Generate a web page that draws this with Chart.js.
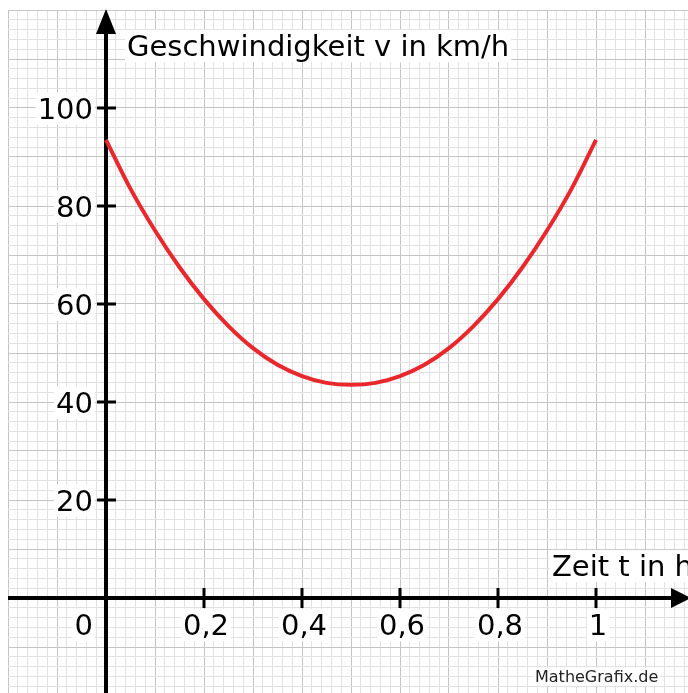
<!DOCTYPE html>
<html>
<head>
<meta charset="utf-8">
<script src="https://cdn.jsdelivr.net/npm/chart.js@4"></script>
<style>
  body { margin: 0; background: #fff; }
  #wrap { width: 688px; height: 693px; }
</style>
</head>
<body>
<div id="wrap"><canvas id="graf" width="688" height="693"></canvas></div>
<script>
// Zeit t in h / Geschwindigkeit v in km/h
const zeit = [0, 0.05, 0.1, 0.15, 0.2, 0.25, 0.3, 0.35, 0.4, 0.45, 0.5,
              0.55, 0.6, 0.65, 0.7, 0.75, 0.8, 0.85, 0.9, 0.95, 1];
const geschw = [93.5, 83.5, 75, 67.5, 61, 55.5, 51, 47.6, 45.3, 43.9, 43.5,
                43.9, 45.3, 47.6, 51, 55.5, 61, 67.5, 75, 83.5, 93.5];

const xTickWerte = [0.2, 0.4, 0.6, 0.8, 1];
const xTickTexte = ['0,2', '0,4', '0,6', '0,8', '1'];
const yTickWerte = [20, 40, 60, 80, 100];
const yTickTexte = ['20', '40', '60', '80', '100'];

const titelY = 'Geschwindigkeit v in km/h';
const titelX = 'Zeit t in h';
const quelle = 'MatheGrafix.de';

const FONT = '"DejaVu Sans", Verdana, sans-serif';

// Rasterfarbe: jede 5. Linie dunkler
const istHaupt = (v, schritt) => Math.abs(v / schritt - Math.round(v / schritt)) < 1e-6;

const textMitBox = (ctx, text, x, y, align, size, farbe) => {
    ctx.font = size + 'px ' + FONT;
    const w = ctx.measureText(text).width;
    let left = x;
    if (align === 'right') left = x - w;
    if (align === 'center') left = x - w / 2;
    ctx.fillStyle = '#fff';
    ctx.fillRect(left - 2, y - size * 0.9, w + 4, size * 1.12);
    ctx.fillStyle = farbe || '#000';
    ctx.textAlign = 'left';
    ctx.textBaseline = 'alphabetic';
    ctx.fillText(text, left, y);
};

const achsen = {
    id: 'achsen',
    beforeDatasetsDraw(chart) {
        const ctx = chart.ctx;
        const sx = chart.scales.x, sy = chart.scales.y;
        const x0 = sx.getPixelForValue(0), y0 = sy.getPixelForValue(0);
        ctx.save();
        ctx.strokeStyle = '#000';
        ctx.fillStyle = '#000';
        ctx.lineWidth = 4;
        ctx.beginPath();
        ctx.moveTo(x0, chart.height);
        ctx.lineTo(x0, 30);
        ctx.moveTo(chart.chartArea.left, y0);
        ctx.lineTo(675, y0);
        ctx.stroke();
        // Pfeile
        ctx.beginPath();
        ctx.moveTo(x0 - 10, 34); ctx.lineTo(x0 + 10, 34); ctx.lineTo(x0, 9);
        ctx.closePath(); ctx.fill();
        ctx.beginPath();
        ctx.moveTo(671, y0 - 10); ctx.lineTo(671, y0 + 10); ctx.lineTo(691, y0);
        ctx.closePath(); ctx.fill();
        // Striche
        ctx.lineWidth = 3;
        ctx.beginPath();
        yTickWerte.forEach(v => {
            const py = sy.getPixelForValue(v);
            ctx.moveTo(x0 - 9, py); ctx.lineTo(x0 + 10, py);
        });
        xTickWerte.forEach(v => {
            const px = sx.getPixelForValue(v);
            ctx.moveTo(px, y0 - 10); ctx.lineTo(px, y0 + 10);
        });
        ctx.stroke();
        ctx.restore();
    },
    afterDraw(chart) {
        const ctx = chart.ctx;
        const sx = chart.scales.x, sy = chart.scales.y;
        ctx.save();
        yTickWerte.forEach((v, i) => {
            textMitBox(ctx, yTickTexte[i], 93, sy.getPixelForValue(v) + 10.5, 'right', 29);
        });
        xTickWerte.forEach((v, i) => {
            textMitBox(ctx, xTickTexte[i], sx.getPixelForValue(v) + 2, 635, 'center', 29);
        });
        textMitBox(ctx, '0', 93, 635, 'right', 29);
        textMitBox(ctx, titelY, 127, 56, 'left', 29);
        textMitBox(ctx, titelX, 552, 576, 'left', 29);
        textMitBox(ctx, quelle, 535, 682, 'left', 16, '#222');
        ctx.restore();
    }
};

new Chart(document.getElementById('graf'), {
    type: 'scatter',
    data: {
        datasets: [{
            data: zeit.map((t, i) => ({ x: t, y: geschw[i] })),
            showLine: true,
            borderColor: '#e8282c',
            borderWidth: 4,
            pointRadius: 0,
            tension: 0.4,
            fill: false
        }]
    },
    options: {
        responsive: false,
        animation: false,
        devicePixelRatio: 1,
        layout: { padding: { left: 8, top: 10, right: 0, bottom: 0 } },
        plugins: { legend: { display: false }, tooltip: { enabled: false } },
        scales: {
            x: {
                type: 'linear',
                min: -0.2,
                max: -0.2 + 680 / 490,
                border: { display: false },
                ticks: { display: false, stepSize: 0.02, includeBounds: false },
                grid: {
                    drawTicks: false,
                    color: c => istHaupt(c.tick.value, 0.1) ? '#c4c4c4' : '#e2e2e2'
                }
            },
            y: {
                type: 'linear',
                min: 120 - 683 / 4.9,
                max: 120,
                border: { display: false },
                ticks: { display: false, stepSize: 2, includeBounds: false },
                grid: {
                    drawTicks: false,
                    color: c => istHaupt(c.tick.value, 10) ? '#c4c4c4' : '#e2e2e2'
                }
            }
        }
    },
    plugins: [achsen]
});
</script>
</body>
</html>
